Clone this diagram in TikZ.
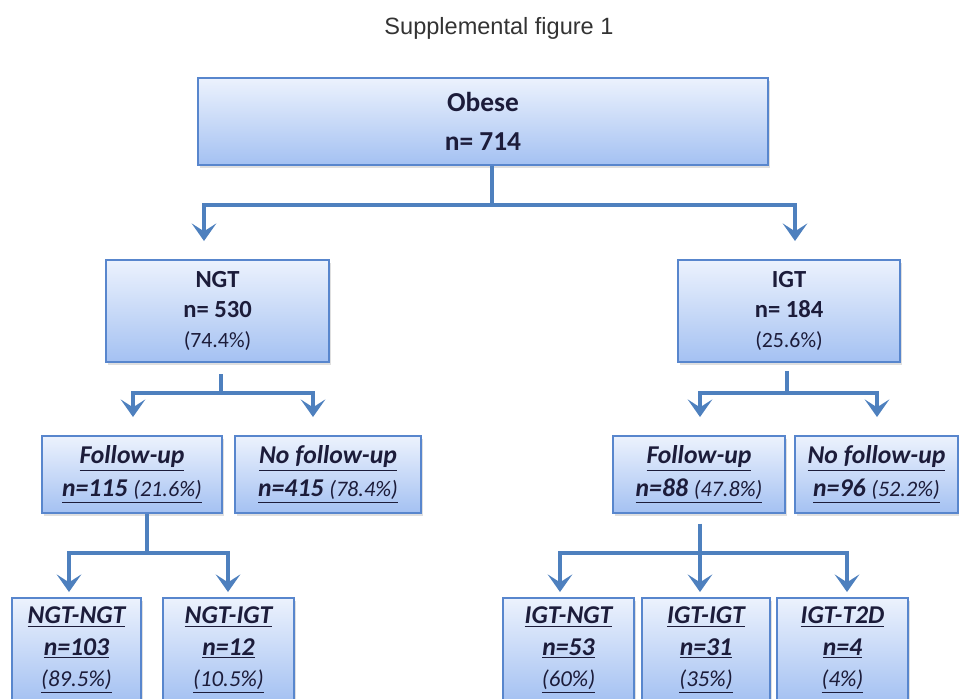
\documentclass[tikz,border=0pt]{standalone}
\usepackage{fontspec}
\setmainfont{Carlito}
\newfontfamily\titlefont{Liberation Sans}
\usepackage{xcolor}
\usepackage{tikz}
\usetikzlibrary{arrows.meta,shadows}

\newcommand{\fsz}[2]{\fontsize{#1}{#2}\selectfont}

\begin{document}
\begin{tikzpicture}[
      x=0.02cm, y=-0.02cm,
      box/.style={rectangle, draw=boxline, line width=1.1pt, top color=boxtop,
        bottom color=boxbot, align=center, inner sep=2pt, text=txtc,
        drop shadow={opacity=0.25, shadow xshift=1.2pt, shadow yshift=-1.5pt}},
      link/.style={boxarrow, line width=1.8pt},
      flow/.style={link, -{Stealth[length=10pt, width=14pt, inset=4.5pt]}},
    ]
    \definecolor{boxline}{RGB}{88,134,205}
    \definecolor{boxtop}{RGB}{236,242,253}
    \definecolor{boxbot}{RGB}{164,193,242}
    \definecolor{boxarrow}{RGB}{78,128,190}
    \definecolor{txtc}{RGB}{28,28,58}

    \useasboundingbox (0,0) rectangle (959,698);
    \clip (0,0) rectangle (959,698);

    \node[font=\titlefont\fsz{13.4}{16}, text=black!80] (title) at (499,28) {Supplemental figure 1};

    % level 1
    \node[box, minimum width=11.4cm, minimum height=1.74cm, font=\bfseries\fsz{15.6}{22}] (obese) at (483,121.5) {Obese\\n= 714};

    % level 2
    \node[box, minimum width=4.46cm, minimum height=2.04cm, font=\bfseries\fsz{14}{17}] (ngt) at (217.5,311)
      {NGT\\n= 530\\{\mdseries\fsz{12.4}{14}(74.4\%)}};
    \node[box, minimum width=4.44cm, minimum height=2.04cm, font=\bfseries\fsz{14}{17}] (igt) at (789,311)
      {IGT\\n= 184\\{\mdseries\fsz{12.4}{14}(25.6\%)}};

    % level 3
    \node[box, minimum width=3.6cm, minimum height=1.54cm, font=\bfseries\itshape\fsz{14.6}{19}] (ngtfu) at (132,474.5)
      {\underline{Follow-up}\\\underline{n=115 {\mdseries\fsz{12.6}{14}(21.6\%)}}};
    \node[box, minimum width=3.72cm, minimum height=1.54cm, font=\bfseries\itshape\fsz{14.6}{19}] (ngtnofu) at (328,474.5)
      {\underline{No follow-up}\\\underline{n=415 {\mdseries\fsz{12.6}{14}(78.4\%)}}};
    \node[box, minimum width=3.44cm, minimum height=1.54cm, font=\bfseries\itshape\fsz{14.6}{19}] (igtfu) at (699,474.5)
      {\underline{Follow-up}\\\underline{n=88 {\mdseries\fsz{12.6}{14}(47.8\%)}}};
    \node[box, minimum width=3.26cm, minimum height=1.54cm, font=\bfseries\itshape\fsz{14.6}{19}] (igtnofu) at (876.5,474.5)
      {\underline{No follow-up}\\\underline{n=96 {\mdseries\fsz{12.6}{14}(52.2\%)}}};

    % level 4
    \node[box, minimum width=2.58cm, minimum height=2.08cm, font=\bfseries\itshape\fsz{14.6}{18}] (nn) at (76.5,650)
      {\underline{NGT-NGT}\\\underline{n=103}\\\underline{\mdseries\fsz{13}{14}(89.5\%)}};
    \node[box, minimum width=2.62cm, minimum height=2.08cm, font=\bfseries\itshape\fsz{14.6}{18}] (ni) at (228.5,650)
      {\underline{NGT-IGT}\\\underline{n=12}\\\underline{\mdseries\fsz{13}{14}(10.5\%)}};
    \node[box, minimum width=2.62cm, minimum height=2.08cm, font=\bfseries\itshape\fsz{14.6}{18}] (in) at (568.5,650)
      {\underline{IGT-NGT}\\\underline{n=53}\\\underline{\mdseries\fsz{13}{14}(60\%)}};
    \node[box, minimum width=2.56cm, minimum height=2.08cm, font=\bfseries\itshape\fsz{14.6}{18}] (ii) at (706,650)
      {\underline{IGT-IGT}\\\underline{n=31}\\\underline{\mdseries\fsz{13}{14}(35\%)}};
    \node[box, minimum width=2.62cm, minimum height=2.08cm, font=\bfseries\itshape\fsz{14.6}{18}] (it) at (842.5,650)
      {\underline{IGT-T2D}\\\underline{n=4}\\\underline{\mdseries\fsz{13}{14}(4\%)}};

    % junctions and arrow tips
    \coordinate (jobese) at (492,205);
    \coordinate (tngt) at (204,241);
    \coordinate (tigt) at (795,241);
    \coordinate (jngt) at (221,393);
    \coordinate (tngtfu) at (133,417);
    \coordinate (tngtnofu) at (313,417);
    \coordinate (jigt) at (787,393);
    \coordinate (tigtfu) at (700,417);
    \coordinate (tigtnofu) at (877,417);
    \coordinate (jngtfu) at (147,553);
    \coordinate (tnn) at (69,592);
    \coordinate (tni) at (228,592);
    \coordinate (jigtfu) at (700,553);
    \coordinate (tin) at (560,592);
    \coordinate (tii) at (700,592);
    \coordinate (tit) at (847,592);

    \draw[link] (obese.south -| jobese) -- (jobese);
    \draw[flow] (jobese) -| (tngt);
    \draw[flow] (jobese) -| (tigt);

    \draw[link, shorten <=6.5pt] (ngt.south -| jngt) -- (jngt);
    \draw[flow] (jngt) -| (tngtfu);
    \draw[flow] (jngt) -| (tngtnofu);

    \draw[link, shorten <=4.5pt] (igt.south -| jigt) -- (jigt);
    \draw[flow] (jigt) -| (tigtfu);
    \draw[flow] (jigt) -| (tigtnofu);

    \draw[link] (ngtfu.south -| jngtfu) -- (jngtfu);
    \draw[flow] (jngtfu) -| (tnn);
    \draw[flow] (jngtfu) -| (tni);

    \draw[link, shorten <=5.5pt] (igtfu.south -| jigtfu) -- (jigtfu);
    \draw[flow] (jigtfu) -| (tin);
    \draw[flow] (jigtfu) -- (tii);
    \draw[flow] (jigtfu) -| (tit);
  \end{tikzpicture}
\end{document}
